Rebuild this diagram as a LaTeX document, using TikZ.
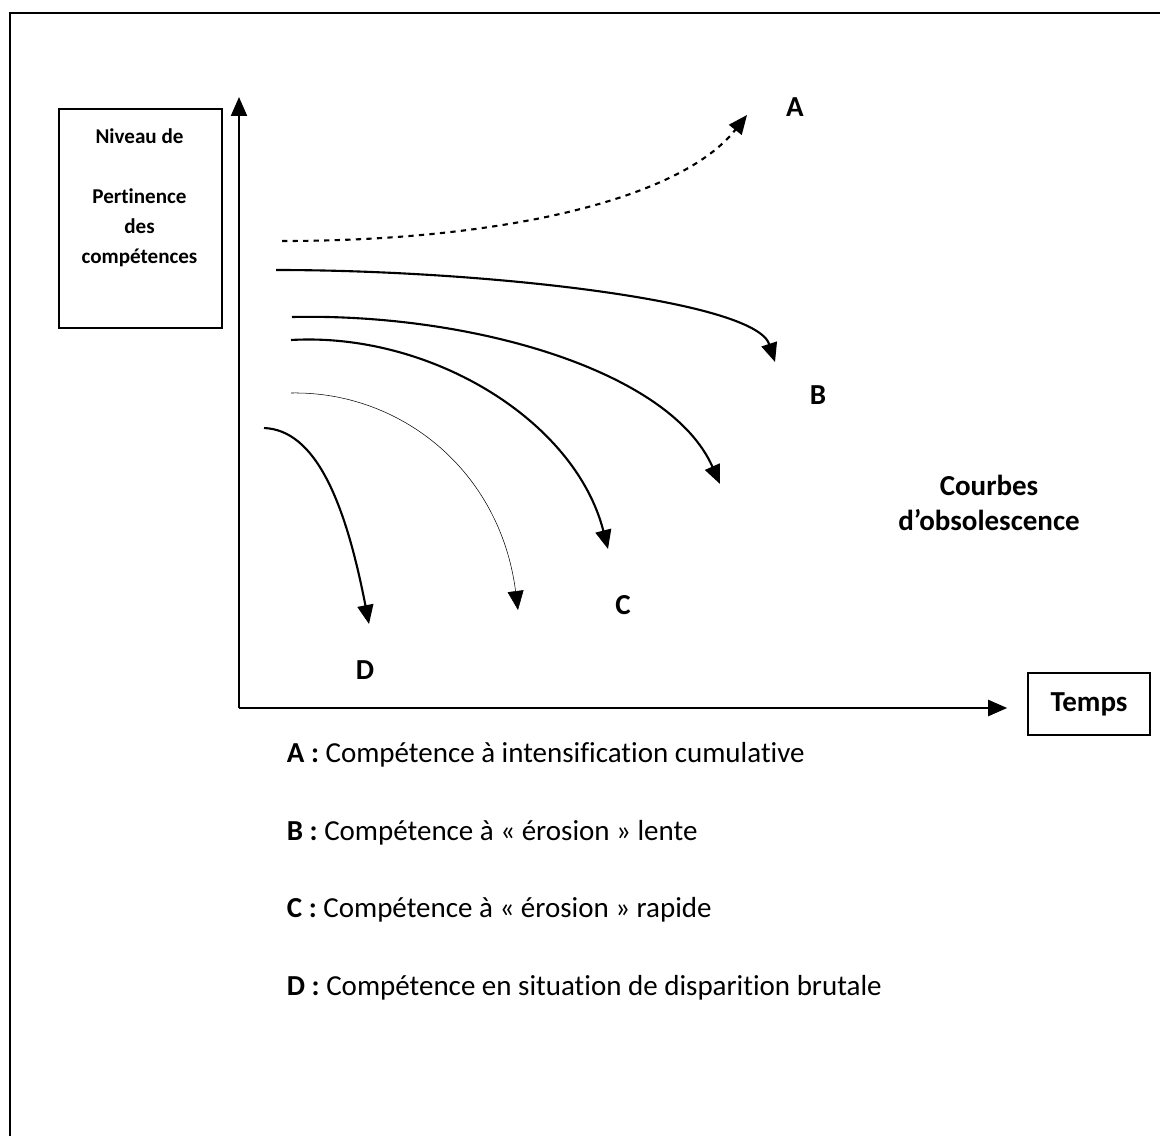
\documentclass[tikz,border=0pt]{standalone}
\usepackage{fontspec}
\setmainfont{Carlito}[Ligatures=NoCommon]
\usetikzlibrary{arrows.meta}

\begin{document}
\begin{tikzpicture}[x=0.02cm,y=-0.02cm,>={Triangle[length=3.8mm,width=3.2mm]},
        line width=1.2pt,
        box/.style={draw,line width=0.9pt,align=center,font=\bfseries},
        lbl/.style={font=\fontsize{16.5}{20}\selectfont\bfseries},
        legend/.style={anchor=west,font=\fontsize{16.5}{20}\selectfont}]

  \useasboundingbox (0,0) rectangle (1160,1136);
  \draw (10,1140) -- (10,13) -- (1165,13);

  % axes
  \coordinate (origin) at (239,708);
  \coordinate (ytop) at (239,97);
  \node[box,minimum width=0.02cm*122,minimum height=0.02cm*62,
        font=\fontsize{16.5}{20}\selectfont\bfseries] (temps) at (1089,704) {Temps};
  \node[box,minimum width=0.02cm*163,minimum height=0.02cm*219,anchor=north west,
        inner sep=0pt] (niveau) at (58,108) {};
  \node[align=center,font=\fontsize{12}{17}\selectfont\bfseries,anchor=north]
        (niveautxt) at (139.5,122) {Niveau de\\[17pt]Pertinence\\des\\compétences};
  \draw[->] (origin) -- (ytop);
  \draw[->] (origin) -- ([xshift=-0.02cm*20]temps.west |- origin);

  % curves
  \coordinate (a0) at (282,241);  \coordinate (a1) at (747,115);
  \coordinate (b0) at (276,270);  \coordinate (b1) at (775,362);
  \coordinate (e0) at (292,317);  \coordinate (e1) at (720,484);
  \coordinate (c0) at (291,340);  \coordinate (c1) at (608,549);
  \coordinate (f0) at (291,393);  \coordinate (f1) at (518,610);
  \coordinate (d0) at (264,428);  \coordinate (d1) at (369,624);

  \draw[->,dashed] (a0) .. controls (500,241) and (680,200) .. (a1);
  \draw[->] (b0) .. controls (480,270) and (755,300) .. (b1);
  \draw[->] (e0) .. controls (470,313) and (670,370) .. (e1);
  \draw[->] (c0) .. controls (430,332) and (575,420) .. (c1);
  \draw[->,line width=0.3pt] (f0) .. controls (400,391) and (500,470) .. (f1);
  \draw[->] (d0) .. controls (315,430) and (345,500) .. (d1);

  \node[lbl] (A) at (795,107) {A};
  \node[lbl] (B) at (818,395) {B};
  \node[lbl] (C) at (623,605) {C};
  \node[lbl] (D) at (365,670) {D};
  \node[lbl,align=center] (courbes) at (989,503) {Courbes\\d’obsolescence};

  % legend
  \node[legend] (la) at (280,755) {\textbf{A :} Compétence à intensification cumulative};
  \node[legend] (lb) at (280,833) {\textbf{B :} Compétence à « érosion » lente};
  \node[legend] (lc) at (280,910) {\textbf{C :} Compétence à « érosion » rapide};
  \node[legend] (ld) at (280,988) {\textbf{D :} Compétence en situation de disparition brutale};

\end{tikzpicture}
\end{document}
